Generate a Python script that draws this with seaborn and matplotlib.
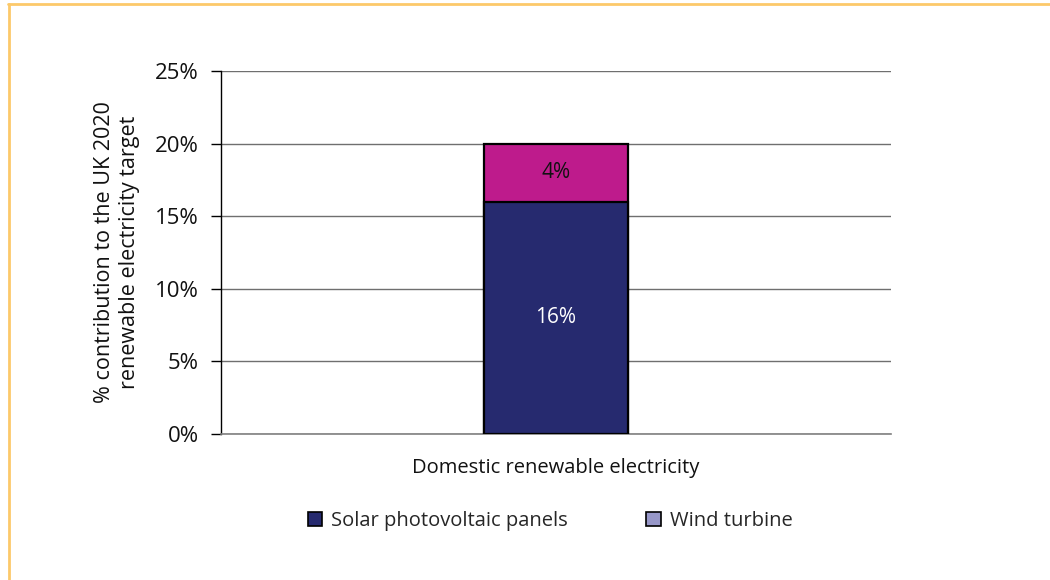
import matplotlib
matplotlib.use("Agg")
import matplotlib.pyplot as plt
import matplotlib.patches as mpatches
from matplotlib.lines import Line2D
import seaborn as sns
import pandas as pd

categories = ["Domestic renewable electricity"]
solar = [16]
wind = [4]
series_names = ["Solar photovoltaic panels", "Wind turbine"]
y_ticks = [0, 5, 10, 15, 20, 25]

sns.set_theme(style="white")
plt.rcParams["font.family"] = ["Open Sans", "DejaVu Sans"]

navy = "#262a6f"
magenta = "#be1b8c"
lavender = "#9797c8"

fig = plt.figure(figsize=(10.5, 5.8), dpi=100)
ax = fig.add_axes([0.2105, 0.2517, 0.638, 0.626])

totals = [s + w for s, w in zip(solar, wind)]
df = pd.DataFrame({"cat": categories, "solar": solar, "total": totals})

# stacked bar: full height in magenta, solar portion drawn over it
sns.barplot(data=df, x="cat", y="total", color=magenta, saturation=1,
            width=0.216, edgecolor="black", linewidth=1.6, ax=ax, zorder=3)
sns.barplot(data=df, x="cat", y="solar", color=navy, saturation=1,
            width=0.216, edgecolor="black", linewidth=1.6, ax=ax, zorder=4)

for i, (s, w) in enumerate(zip(solar, wind)):
    ax.text(i, s / 2, f"{s}%", ha="center", va="center", color="white",
            fontsize=15, zorder=5)
    ax.text(i, s + w / 2, f"{w}%", ha="center", va="center", color="#111111",
            fontsize=15, zorder=5)

ax.set_xlim(-0.5, 0.5)
ax.set_ylim(0, 25)
ax.set_yticks(y_ticks)
ax.set_yticklabels([f"{t}%" for t in y_ticks], fontsize=16, color="#111111")
ax.yaxis.grid(True, color="#6f6f6f", linewidth=1)
ax.set_axisbelow(True)

ax.set_xticks([0])
ax.set_xticklabels(categories, fontsize=14.5, color="#111111")
ax.tick_params(axis="x", which="major", length=0, pad=17)
ax.set_xticks([-0.5, 0.5], minor=True)
ax.tick_params(axis="x", which="minor", length=7, width=1, color="black", direction="out")
ax.tick_params(axis="y", length=7, width=1, color="black", direction="out", left=True, pad=9)
ax.set_xlabel("")
ax.set_ylabel("% contribution to the UK 2020\nrenewable electricity target",
              fontsize=15.5, color="#111111", labelpad=11, linespacing=1.25)

for side in ["top", "right"]:
    ax.spines[side].set_visible(False)
ax.spines["left"].set_color("black")
ax.spines["left"].set_linewidth(1)
ax.spines["bottom"].set_color("#808080")
ax.spines["bottom"].set_linewidth(1.2)

handles = [mpatches.Patch(facecolor=navy, edgecolor="black", linewidth=1.2),
           mpatches.Patch(facecolor=lavender, edgecolor="black", linewidth=1.2)]
fig.legend(handles, series_names, loc="center", bbox_to_anchor=(0.524, 0.101),
           ncol=2, frameon=False, fontsize=14.5, handlelength=0.7, handleheight=0.7,
           handletextpad=0.45, columnspacing=3.9)

# page frame along the top and left edges
fig.add_artist(Line2D([0.0075, 1.0], [0.9925, 0.9925], transform=fig.transFigure,
                      color="#fcc96a", linewidth=2))
fig.add_artist(Line2D([0.0085, 0.0085], [0.0, 0.993], transform=fig.transFigure,
                      color="#fcc96a", linewidth=2))

fig.savefig("out.png", dpi=100, facecolor="white")
